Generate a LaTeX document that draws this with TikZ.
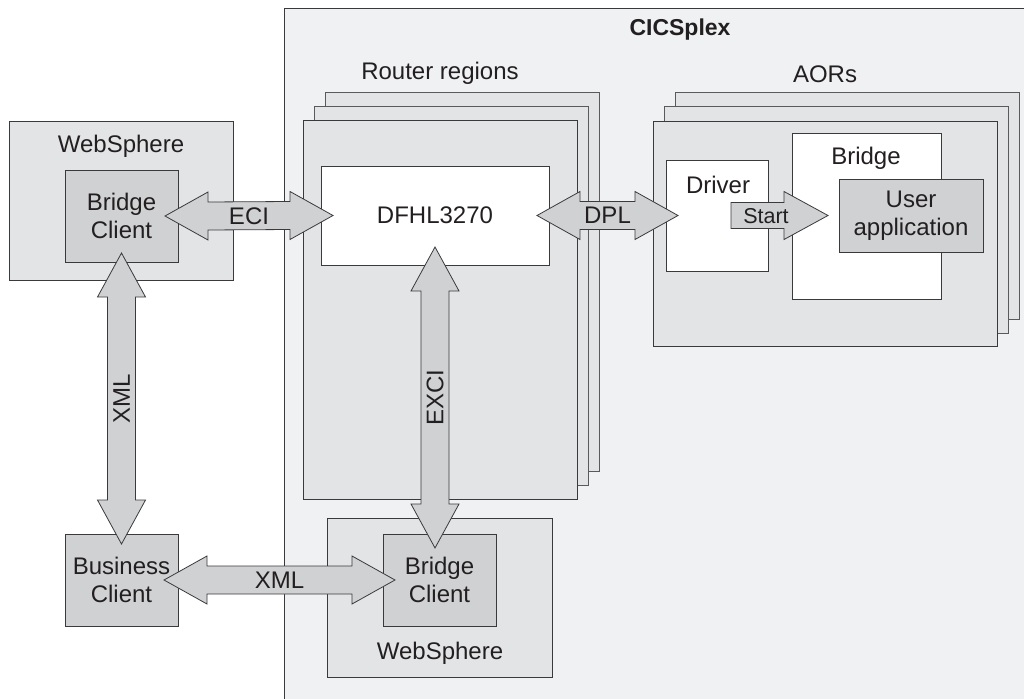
\documentclass[tikz,border=0pt]{standalone}
\usepackage{fontspec}
\setmainfont{Liberation Sans}
\usetikzlibrary{calc}
\definecolor{plexfill}{HTML}{F0F1F3}
\definecolor{regfill}{HTML}{E3E4E6}
\definecolor{darkfill}{HTML}{D0D1D3}
\definecolor{edge}{HTML}{3A3A3C}
\definecolor{backedge}{HTML}{5A5A5C}
\definecolor{ink}{HTML}{231F20}
\tikzset{
  box/.style={draw=edge, line width=1pt, inner sep=0pt, outer sep=0pt, anchor=north west},
  backbox/.style={box, draw=backedge, fill=regfill},
  regbox/.style={box, fill=regfill},
  whitebox/.style={box, fill=white},
  darkbox/.style={box, fill=darkfill},
  barrow/.style={draw=edge, fill=darkfill, line width=0.8pt, line join=miter},
  lbl/.style={text=ink, inner sep=0pt, font=\fontsize{24}{28}\selectfont, align=center},
  smalllbl/.style={lbl, font=\fontsize{21.5}{25}\selectfont},
  titlelbl/.style={lbl, font=\fontsize{23}{27}\selectfont\bfseries}
}
% horizontal double block arrow from #1 (left tip) to #2 (right tip)
\newcommand\hdbl[2]{\path[barrow] let \p1=(#1), \p2=(#2) in
  (\x1,\y1) -- (\x1+43pt,\y1+24pt) -- (\x1+43pt,\y1+14pt) -- (\x2-43pt,\y2+14pt)
  -- (\x2-43pt,\y2+24pt) -- (\x2,\y2) -- (\x2-43pt,\y2-24pt) -- (\x2-43pt,\y2-14pt)
  -- (\x1+43pt,\y1-14pt) -- (\x1+43pt,\y1-24pt) -- cycle;}
% vertical double block arrow from #1 (top tip) to #2 (bottom tip)
\newcommand\vdbl[2]{\path[barrow] let \p1=(#1), \p2=(#2) in
  (\x1,\y1) -- (\x1+24pt,\y1-44pt) -- (\x1+14pt,\y1-44pt) -- (\x2+14pt,\y2+44pt)
  -- (\x2+24pt,\y2+44pt) -- (\x2,\y2) -- (\x2-24pt,\y2+44pt) -- (\x2-14pt,\y2+44pt)
  -- (\x1-14pt,\y1-44pt) -- (\x1-24pt,\y1-44pt) -- cycle;}
% horizontal single block arrow from #1 (tail) to #2 (tip)
\newcommand\hsgl[2]{\path[barrow] let \p1=(#1), \p2=(#2) in
  (\x1,\y1+13pt) -- (\x2-44pt,\y2+13pt) -- (\x2-44pt,\y2+24pt) -- (\x2,\y2)
  -- (\x2-44pt,\y2-24pt) -- (\x2-44pt,\y2-13pt) -- (\x1,\y1-13pt) -- cycle;}
\begin{document}
\begin{tikzpicture}[x=1pt, y=-1pt]
\useasboundingbox (0,0) rectangle (1024,698);
\clip (0,0) rectangle (1024,698);
\fill[white] (0,0) rectangle (1024,698);
% CICSplex
\node[box, fill=plexfill, minimum width=760, minimum height=700] (plex) at (284,9) {};
\node[titlelbl] (plext) at (680,30) {CICSplex};
% Router regions stack
\node[lbl] (routert) at (440,73) {Router regions};
\node[backbox, minimum width=274, minimum height=378] (rr3) at (325,93) {};
\node[backbox, minimum width=274, minimum height=378] (rr2) at (314,107) {};
\node[regbox, minimum width=274, minimum height=379] (rr1) at (303,120) {};
\node[whitebox, minimum width=228, minimum height=99] (dfh) at (321,166) {};
\node[lbl] (dfht) at (dfh.center) {DFHL3270};
% AOR stack
\node[lbl] (aort) at (825,74) {AORs};
\node[backbox, minimum width=344, minimum height=226] (aor3) at (675,93) {};
\node[backbox, minimum width=344, minimum height=226] (aor2) at (664,107) {};
\node[regbox, minimum width=344, minimum height=225] (aor1) at (653,121) {};
\node[whitebox, minimum width=102, minimum height=111] (drv) at (666,160) {};
\node[lbl] (drvt) at (718,185) {Driver};
\node[whitebox, minimum width=149, minimum height=166] (brg) at (792,133) {};
\node[lbl] (brgt) at (866,158) {Bridge};
\node[darkbox, minimum width=144, minimum height=73] (uapp) at (839,179) {};
\node[lbl] (uappt) at (uapp.center) {User\\application};
% WebSphere (top left)
\node[regbox, minimum width=224, minimum height=159] (ws1) at (9,121) {};
\node[lbl] (ws1t) at (121,146) {WebSphere};
\node[darkbox, minimum width=113, minimum height=92] (bc1) at (65,170) {};
\node[lbl] (bc1t) at (bc1.center) {Bridge\\Client};
% Business client
\node[darkbox, minimum width=113, minimum height=92] (bus) at (65,534) {};
\node[lbl] (bust) at (bus.center) {Business\\Client};
% WebSphere (bottom)
\node[regbox, minimum width=225, minimum height=159] (ws2) at (327,518) {};
\node[lbl] (ws2t) at (440,653) {WebSphere};
\node[darkbox, minimum width=113, minimum height=92] (bc2) at (383,534) {};
\node[lbl] (bc2t) at (bc2.center) {Bridge\\Client};
% arrow end points
\coordinate (eciL) at ([xshift=-13pt]bc1.east);
\coordinate (eciR) at ([xshift=12pt]dfh.west);
\coordinate (dplL) at ([xshift=-12pt]dfh.east);
\coordinate (dplR) at ([xshift=12pt]drv.west);
\coordinate (startL) at ([xshift=-37pt]drv.east);
\coordinate (startR) at ([xshift=-11pt]uapp.west);
\coordinate (exciT) at ([yshift=18pt]dfh.south);
\coordinate (exciBase) at (dfh.south |- bc2.north);
\coordinate (exciB) at ([yshift=-14pt]exciBase);
\coordinate (xmlvT) at ([yshift=9pt]bc1.south);
\coordinate (xmlvB) at ([yshift=-10pt]bus.north);
\coordinate (xmlhL) at ([xshift=-14pt]bus.east);
\coordinate (xmlhR) at ([xshift=12pt]bc2.west);
% arrows
\hdbl{eciL}{eciR}
\hdbl{dplL}{dplR}
\hsgl{startL}{startR}
\vdbl{exciT}{exciB}
\vdbl{xmlvT}{xmlvB}
\hdbl{xmlhL}{xmlhR}
% arrow labels
\node[lbl] (ecit) at ($(eciL)!0.5!(eciR)$) {ECI};
\node[lbl] (dplt) at ($(dplL)!0.5!(dplR)$) {DPL};
\node[smalllbl] (startt) at (766,216) {Start};
\node[lbl, rotate=90] (excit) at ($(exciT)!0.5!(exciB)$) {EXCI};
\node[lbl, rotate=90] (xmlvt) at ($(xmlvT)!0.5!(xmlvB)$) {XML};
\node[lbl] (xmlht) at ($(xmlhL)!0.5!(xmlhR)$) {XML};
\end{tikzpicture}
\end{document}
